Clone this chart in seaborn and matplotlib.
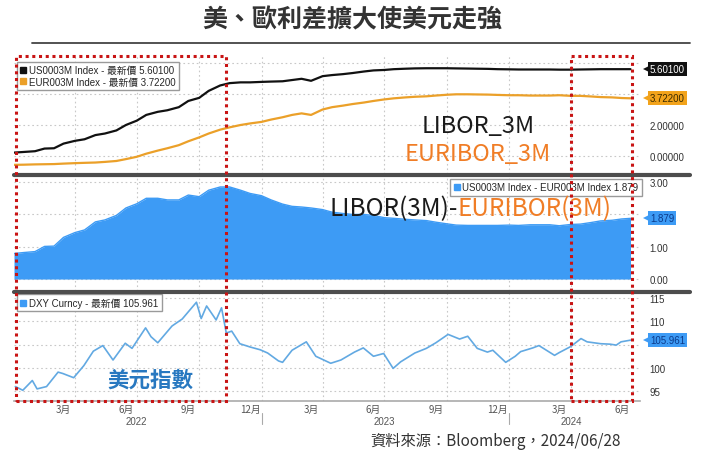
import matplotlib
matplotlib.use("Agg")
import matplotlib.pyplot as plt
import matplotlib.dates as mdates
import matplotlib.transforms as mtransforms
from matplotlib.lines import Line2D
from matplotlib.patches import Rectangle
import pandas as pd
import seaborn as sns

W, H = 725, 460

# semi-monthly readings (1st / 15th) plus the last print on 2024-06-28
rate_dates = list(pd.date_range("2022-01-01", "2024-06-15", freq="SMS")) + [pd.Timestamp("2024-06-28")]
us_libor = [0.22, 0.26, 0.31, 0.48, 0.50, 0.80, 0.98, 1.08, 1.35, 1.45,
            1.65, 2.00, 2.28, 2.65, 2.85, 2.95, 3.15, 3.55, 3.75, 4.20,
            4.55, 4.70, 4.75, 4.75, 4.78, 4.80, 4.82, 4.90, 4.98, 4.85,
            5.15, 5.22, 5.28, 5.35, 5.45, 5.52, 5.55, 5.60, 5.63, 5.65,
            5.66, 5.66, 5.66, 5.65, 5.64, 5.63, 5.62, 5.60, 5.59, 5.58,
            5.58, 5.58, 5.58, 5.57, 5.57, 5.58, 5.59, 5.60, 5.60, 5.60, 5.601]
euribor = [-0.57, -0.56, -0.54, -0.53, -0.52, -0.49, -0.46, -0.44, -0.42, -0.38,
           -0.32, -0.20, -0.05, 0.15, 0.35, 0.50, 0.70, 0.95, 1.20, 1.45,
           1.70, 1.85, 2.00, 2.10, 2.20, 2.35, 2.50, 2.65, 2.75, 2.65,
           3.00, 3.15, 3.25, 3.35, 3.45, 3.55, 3.65, 3.72, 3.78, 3.82,
           3.85, 3.90, 3.95, 3.98, 3.98, 3.97, 3.96, 3.94, 3.92, 3.92,
           3.90, 3.90, 3.90, 3.92, 3.88, 3.88, 3.84, 3.80, 3.78, 3.74, 3.722]

dxy_dates = ["2022-01-03", "2022-01-14", "2022-01-28", "2022-02-04", "2022-02-18", "2022-03-07",
             "2022-03-14", "2022-03-30", "2022-04-14", "2022-04-28", "2022-05-12", "2022-05-27",
             "2022-06-14", "2022-06-24", "2022-07-14", "2022-07-22", "2022-08-01", "2022-08-22",
             "2022-09-06", "2022-09-27", "2022-10-04", "2022-10-12", "2022-10-26", "2022-11-03",
             "2022-11-10", "2022-11-18", "2022-11-30", "2022-12-15", "2022-12-30", "2023-01-10",
             "2023-01-26", "2023-02-01", "2023-02-15", "2023-03-08", "2023-03-22", "2023-04-13",
             "2023-04-28", "2023-05-18", "2023-05-31", "2023-06-15", "2023-06-30", "2023-07-14",
             "2023-07-25", "2023-08-15", "2023-09-01", "2023-09-15", "2023-10-03", "2023-10-20",
             "2023-11-01", "2023-11-15", "2023-11-30", "2023-12-08", "2023-12-27", "2024-01-10",
             "2024-01-18", "2024-02-05", "2024-02-14", "2024-03-08", "2024-03-15", "2024-04-01",
             "2024-04-16", "2024-04-25", "2024-05-15", "2024-05-29", "2024-06-07", "2024-06-14",
             "2024-06-28"]
dxy_values = [96.0, 95.2, 97.3, 95.5, 96.0, 99.1, 98.8, 97.9, 100.5, 103.6,
              104.8, 101.7, 105.3, 104.2, 108.6, 106.7, 105.4, 109.0, 110.5, 114.1,
              110.6, 113.3, 110.3, 112.9, 107.5, 107.9, 105.2, 104.5, 103.9,
              103.2, 101.5, 101.2, 103.8, 105.6, 102.5, 101.0, 101.7, 103.4, 104.3,
              102.5, 103.1, 99.9, 101.3, 103.2, 104.2, 105.4, 107.2, 106.2, 106.8,
              104.2, 103.4, 103.8, 101.2,
              102.5, 103.5, 104.3, 104.8, 102.7, 103.3, 104.6, 106.3, 105.6, 105.2,
              105.1, 104.9, 105.6, 105.961]

legend_top = ["US0003M Index - 最新價 5.60100", "EUR003M Index - 最新價 3.72200"]
legend_mid = "US0003M Index - EUR003M Index 1.879"
legend_bot = "DXY Curncy - 最新價 105.961"

C_BLACK = "#111111"
C_ORANGE = "#eba029"
C_FILL = "#3d9bf5"
C_DXY = "#62a9e2"
C_TXT_OR = "#f07d26"

sns.set_theme(style="white")
plt.rcParams["font.family"] = ["Noto Sans CJK TC", "DejaVu Sans"]
SMALL = ["Liberation Sans", "Noto Sans CJK TC"]

rate_dates = pd.to_datetime(rate_dates)
dxy_dates = pd.to_datetime(dxy_dates)
spread = [u - e for u, e in zip(us_libor, euribor)]

fig = plt.figure(figsize=(W / 100, H / 100), dpi=100)
fig.patch.set_facecolor("white")


def box(y0, y1):
    return [14 / W, 1 - y1 / H, (640 - 14) / W, (y1 - y0) / H]


ax_top = fig.add_axes(box(57, 175))
ax_mid = fig.add_axes(box(177, 292))
ax_bot = fig.add_axes(box(293, 402))
axes = [ax_top, ax_mid, ax_bot]

sns.lineplot(x=rate_dates, y=us_libor, ax=ax_top, color=C_BLACK, linewidth=1.6)
sns.lineplot(x=rate_dates, y=euribor, ax=ax_top, color=C_ORANGE, linewidth=1.6)
ax_mid.fill_between(rate_dates, 0, spread, color=C_FILL, linewidth=0)
sns.lineplot(x=rate_dates, y=spread, ax=ax_mid, color=C_FILL, linewidth=1.0)
sns.lineplot(x=dxy_dates, y=dxy_values, ax=ax_bot, color=C_DXY, linewidth=1.2)

ax_top.set_ylim(-1.16, 6.45)
ax_mid.set_ylim(-0.37, 3.19)
ax_bot.set_ylim(92.9, 116.3)

xmin, xmax = pd.Timestamp("2022-01-01"), pd.Timestamp("2024-07-12")
quarters = pd.date_range("2022-04-01", "2024-04-01", freq="QS")
for ax in axes:
    ax.set_xlim(xmin, xmax)
    ax.set_xlabel("")
    ax.set_ylabel("")
    for s in ax.spines.values():
        s.set_visible(False)
    ax.yaxis.tick_right()
    ax.tick_params(axis="y", length=0, pad=7, labelsize=7, labelcolor="#333333")
    ax.grid(axis="y", linestyle=(0, (1.5, 2.5)), color="#c8c8c8", linewidth=0.8)
    ax.grid(axis="x", visible=False)
    for q in quarters:
        ax.axvline(q, linestyle=(0, (1.5, 2.5)), color="#c8c8c8", linewidth=0.8, zorder=0)
    ax.set_axisbelow(True)

ax_top.set_yticks([0, 2, 4, 6], ["0.00000", "2.00000", "", ""])
ax_mid.set_yticks([0, 1, 2, 3], ["0.00", "1.00", "", "3.00"])
ax_bot.set_yticks([95, 100, 105, 110, 115], ["95", "100", "", "110", "115"])
for ax in axes:
    for lab in ax.get_yticklabels():
        lab.set_family(SMALL)

ax_top.tick_params(axis="x", bottom=False, labelbottom=False)
ax_mid.tick_params(axis="x", bottom=False, labelbottom=False)

# bottom date axis
ax_bot.spines["bottom"].set_visible(True)
ax_bot.spines["bottom"].set_color("#aaaaaa")
ax_bot.spines["bottom"].set_linewidth(1.2)
label_days = pd.date_range("2022-03-01", "2024-06-30", freq="QS-MAR") + pd.Timedelta(days=14)
ax_bot.set_xticks(label_days, [f"{d.month}月" for d in label_days])
ax_bot.xaxis.set_minor_locator(mdates.MonthLocator())
ax_bot.tick_params(axis="x", which="major", length=0, pad=2, labelsize=7, labelcolor="#555555")
ax_bot.tick_params(axis="x", which="minor", length=3, width=0.8, color="#999999", direction="inout")
blend = mtransforms.blended_transform_factory(ax_bot.transData, ax_bot.transAxes)
for year, mid in [("2022", "2022-07-01"), ("2023", "2023-07-01"), ("2024", "2024-04-01")]:
    ax_bot.text(pd.Timestamp(mid), -0.185, year, transform=blend, ha="center", va="center",
                fontsize=7, color="#555555", family=SMALL)
for yb in ["2023-01-01", "2024-01-01"]:
    ax_bot.axvline(pd.Timestamp(yb), ymin=-0.21, ymax=-0.11, color="#aaaaaa", linewidth=0.8, clip_on=False)


def sq(c):
    return Line2D([], [], marker="s", linestyle="", markersize=4.5,
                  markerfacecolor=c, markeredgecolor=c)


leg_kw = dict(frameon=True, fancybox=False, edgecolor="#9a9a9a", framealpha=1,
              handlelength=0.6, handletextpad=0.3, borderpad=0.35, labelspacing=0.15,
              borderaxespad=0, prop={"family": SMALL, "size": 7})
ax_top.legend([sq(C_BLACK), sq(C_ORANGE)], legend_top, loc="upper left",
              bbox_to_anchor=(0.005, 0.95), **leg_kw)
ax_mid.legend([sq(C_FILL)], [legend_mid], loc="upper right",
              bbox_to_anchor=(1.003, 0.975), **leg_kw)
ax_bot.legend([sq(C_FILL)], [legend_bot], loc="upper left",
              bbox_to_anchor=(0.005, 0.98), **leg_kw)

# last value tags on the right axis
tags = [(ax_top, us_libor[-1], "5.60100", C_BLACK, "white"),
        (ax_top, euribor[-1], "3.72200", "#f2a31b", "#3a2a00"),
        (ax_mid, spread[-1], "1.879", C_FILL, "#0b3a8a"),
        (ax_bot, dxy_values[-1], "105.961", C_FILL, "#0b3a8a")]
for ax, v, s, bg, fg in tags:
    tr = mtransforms.blended_transform_factory(ax.transAxes, ax.transData)
    ax.text(1.016, v, s, transform=tr, ha="left", va="center", fontsize=7, color=fg,
            family=SMALL, clip_on=False,
            bbox=dict(boxstyle="square,pad=0.22", facecolor=bg, edgecolor="none"))
    ax.plot([1.0105], [v], transform=tr, marker="<", markersize=5.5, color=bg,
            markeredgewidth=0, clip_on=False)


def fx(x):
    return x / W


def fy(y):
    return 1 - y / H


# panel separators
for y in [175.5, 292.5]:
    fig.add_artist(Line2D([fx(14), fx(690)], [fy(y), fy(y)], transform=fig.transFigure,
                          color="#4d4d4d", linewidth=3))

# red dotted highlight boxes (date spans)
to_fig = fig.transFigure.inverted()
for d0, d1 in [("2022-01-04", "2022-11-10"), ("2024-04-02", "2024-06-30")]:
    xa = to_fig.transform(ax_top.transData.transform((mdates.date2num(pd.Timestamp(d0)), 0)))[0]
    xb = to_fig.transform(ax_top.transData.transform((mdates.date2num(pd.Timestamp(d1)), 0)))[0]
    fig.add_artist(Rectangle((xa, fy(402)), xb - xa, fy(57) - fy(402), transform=fig.transFigure,
                             fill=False, edgecolor="#c81414", linewidth=2.2,
                             linestyle=(0, (1, 1.2)), zorder=5))

# title and annotations
fig.text(fx(352), fy(20), "美、歐利差擴大使美元走強", ha="center", va="center",
         fontsize=18, fontweight="bold", color="#333333")
fig.add_artist(Line2D([fx(32), fx(690)], [fy(44), fy(44)], transform=fig.transFigure,
                      color="#444444", linewidth=1.3))
fig.text(fx(478), fy(127), "LIBOR_3M", ha="center", va="center", fontsize=17, color="#1a1a1a")
fig.text(fx(478), fy(155), "EURIBOR_3M", ha="center", va="center", fontsize=17,
         color=C_TXT_OR, fontweight="medium")
fig.text(fx(458), fy(209), "LIBOR(3M)-", ha="right", va="center", fontsize=17.5, color="#1a1a1a")
fig.text(fx(458), fy(209), "EURIBOR(3M)", ha="left", va="center", fontsize=17.5,
         color=C_TXT_OR, fontweight="medium")
fig.text(fx(150), fy(380), "美元指數", ha="center", va="center", fontsize=15.5,
         fontweight="bold", color="#2878c0")
fig.text(fx(496), fy(441), "資料來源：Bloomberg，2024/06/28", ha="center", va="center",
         fontsize=11, color="#333333")

fig.savefig("out.png", dpi=100, facecolor="white")
